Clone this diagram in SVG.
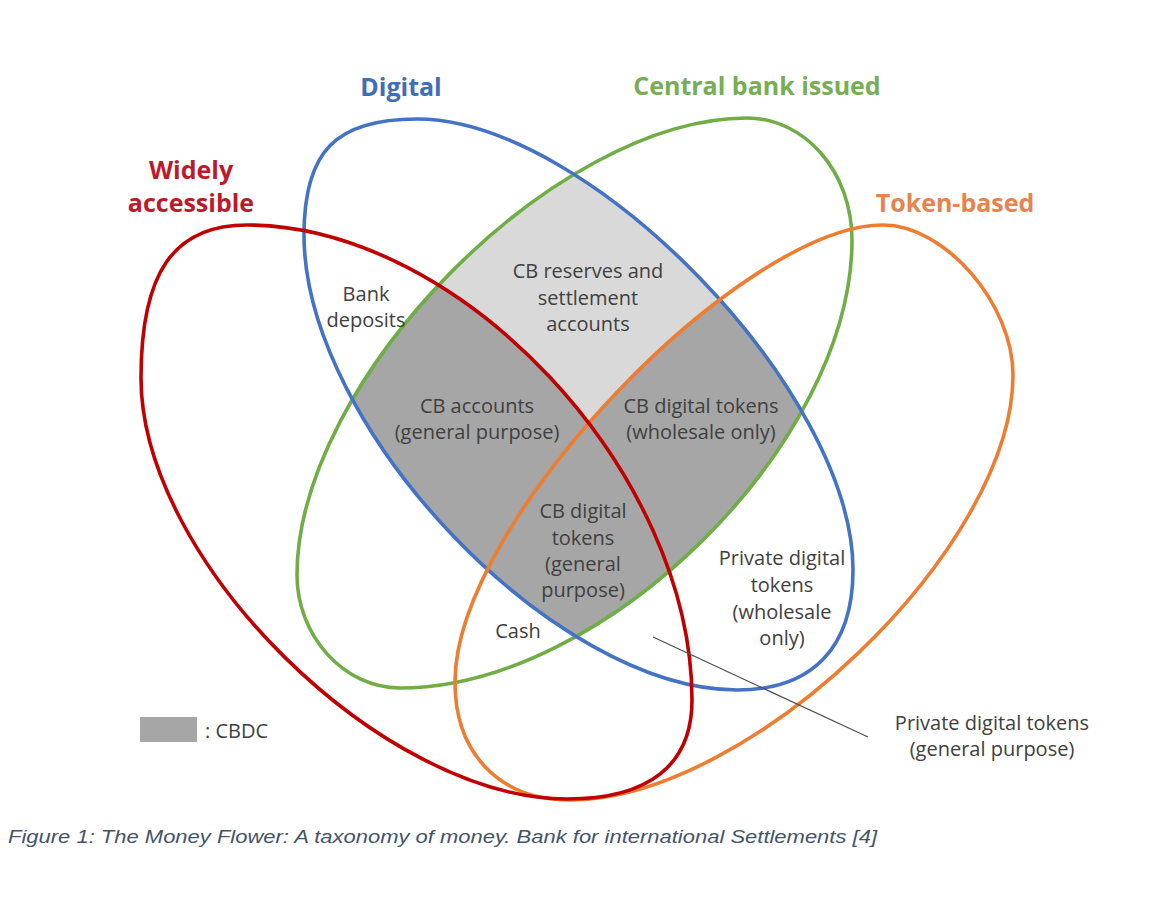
<svg xmlns="http://www.w3.org/2000/svg" width="1150" height="918" viewBox="0 0 1150 918">
<style>
.body{font-family:"Open Sans","Noto Sans","Liberation Sans",sans-serif;font-size:20px;fill:#404040;text-anchor:middle}
.head{font-family:"Open Sans","Noto Sans","Liberation Sans",sans-serif;font-size:25px;font-weight:bold;text-anchor:middle}
.ring{fill:none;stroke-width:3.6}
.cap{font-family:"Liberation Sans",Arial,sans-serif;font-style:italic;font-size:19px;fill:#44546a}
</style>
<defs>
<path id="pBlue" d="M417,119 C336,119 304,151 304,235 C304,427 554,690 737,690 C812,690 853,648 853,570 C853,392 589,119 417,119 Z"/>
<path id="pGreen" d="M747,118 C805,118 852,172 852,240 C852,443 605,688 400,688 C344,688 297,636 297,575 C297,380 555,118 747,118 Z"/>
<path id="pRed" d="M247,225 C174,225 141,272 141,378 C141,561 382,799 567,799 C649,799 692,765 692,700 C692,472 461,225 247,225 Z"/>
<path id="pOrange" d="M883,225 C945,225 1013,304 1013,375 C1013,548 750,800 570,800 C500,800 455,754 455,682 C455,520 743,225 883,225 Z"/>
<clipPath id="cBlue"><use href="#pBlue"/></clipPath>
<clipPath id="cGreen"><use href="#pGreen"/></clipPath>
</defs>
<rect width="1150" height="918" fill="#ffffff"/>
<g id="shading" clip-path="url(#cBlue)">
<g clip-path="url(#cGreen)">
<rect x="0" y="0" width="1150" height="918" fill="#d9d9d9"/>
<use href="#pRed" fill="#a6a6a6"/>
<use href="#pOrange" fill="#a6a6a6"/>
</g>
</g>
<g id="central-bank-issued">
<use href="#pGreen" class="ring" stroke="#70ad47"/>
<text class="head" x="757" y="95" fill="#76ad55">Central bank issued</text>
</g>
<g id="digital">
<use href="#pBlue" class="ring" stroke="#4472c4"/>
<text class="head" x="401" y="96" fill="#3f6db6">Digital</text>
</g>
<g id="token-based">
<use href="#pOrange" class="ring" stroke="#ed7d31"/>
<text class="head" x="955" y="212" fill="#e8834e">Token-based</text>
</g>
<g id="widely-accessible">
<use href="#pRed" class="ring" stroke="#c00000"/>
<text class="head" x="191" y="179" fill="#bb1a2a">Widely</text>
<text class="head" x="191" y="212" fill="#bb1a2a">accessible</text>
</g>
<g id="bank-deposits">
<text class="body" x="366" y="301">Bank</text>
<text class="body" x="366" y="327">deposits</text>
</g>
<g id="cb-reserves">
<text class="body" x="588" y="278">CB reserves and</text>
<text class="body" x="588" y="305">settlement</text>
<text class="body" x="588" y="331">accounts</text>
</g>
<g id="cb-accounts">
<text class="body" x="477" y="413">CB accounts</text>
<text class="body" x="477" y="439">(general purpose)</text>
</g>
<g id="cb-tokens-wholesale">
<text class="body" x="701" y="413">CB digital tokens</text>
<text class="body" x="701" y="439">(wholesale only)</text>
</g>
<g id="cb-tokens-general">
<text class="body" x="583" y="518">CB digital</text>
<text class="body" x="583" y="545">tokens</text>
<text class="body" x="583" y="571">(general</text>
<text class="body" x="583" y="597">purpose)</text>
</g>
<g id="cash">
<text class="body" x="518" y="638">Cash</text>
</g>
<g id="private-wholesale">
<text class="body" x="782" y="565">Private digital</text>
<text class="body" x="782" y="592">tokens</text>
<text class="body" x="782" y="619">(wholesale</text>
<text class="body" x="782" y="645">only)</text>
</g>
<g id="private-general">
<text class="body" x="992" y="730">Private digital tokens</text>
<text class="body" x="992" y="756">(general purpose)</text>
</g>
<g id="connectors">
<line x1="653" y1="637" x2="868" y2="737" stroke="#505050" stroke-width="1.3"/>
</g>
<g id="legend">
<rect x="140" y="717" width="57" height="25" fill="#a6a6a6"/>
<text class="body" x="205" y="738" style="text-anchor:start">: CBDC</text>
</g>
<g id="caption">
<text class="cap" x="8" y="843" textLength="869" lengthAdjust="spacingAndGlyphs">Figure 1: The Money Flower: A taxonomy of money. Bank for international Settlements [4]</text>
</g>
</svg>
